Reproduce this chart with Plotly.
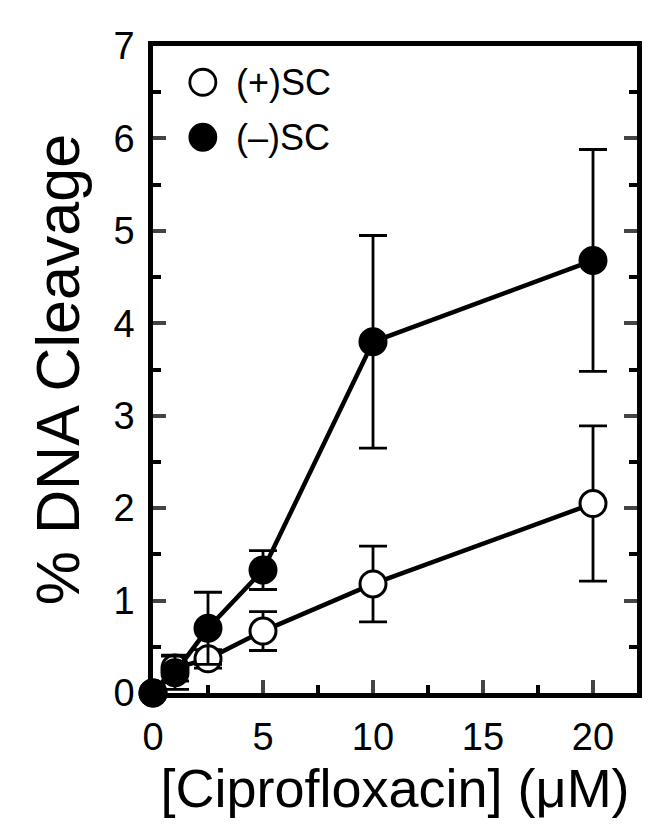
import plotly.graph_objects as go

conc = [0, 1, 2.5, 5, 10, 20]
neg_sc = [0, 0.22, 0.70, 1.33, 3.80, 4.68]
neg_err = [0, 0.18, 0.39, 0.21, 1.15, 1.20]
pos_sc = [0, 0.27, 0.37, 0.67, 1.18, 2.05]
pos_err = [0, 0.14, 0.10, 0.21, 0.41, 0.84]

x_ticks = [0, 5, 10, 15, 20]
y_ticks = [0, 1, 2, 3, 4, 5, 6, 7]

FONT = "Liberation Sans, Arial, sans-serif"

fig = go.Figure()
fig.add_trace(go.Scatter(
    x=conc, y=pos_sc, mode="lines+markers", name="(+)SC",
    line=dict(color="black", width=4.5),
    marker=dict(size=26, color="white", line=dict(color="black", width=3)),
    error_y=dict(type="data", array=pos_err, color="black", thickness=2.8, width=14),
    cliponaxis=False, showlegend=False,
))
fig.add_trace(go.Scatter(
    x=conc, y=neg_sc, mode="lines+markers", name="(–)SC",
    line=dict(color="black", width=4.5),
    marker=dict(size=27, color="black", line=dict(color="black", width=2)),
    error_y=dict(type="data", array=neg_err, color="black", thickness=2.8, width=14),
    cliponaxis=False, showlegend=False,
))

# legend drawn manually
legend_items = [("(+)SC", "white", 0.944), ("(–)SC", "black", 0.859)]
for label, fill, yy in legend_items:
    fig.add_shape(type="circle", xref="x domain", yref="y domain",
                  xsizemode="pixel", ysizemode="pixel",
                  xanchor=0.103, yanchor=yy, x0=-13, x1=13, y0=-13, y1=13,
                  fillcolor=fill, line=dict(color="black", width=2.8))
    fig.add_annotation(x=0.168, y=yy, xref="x domain", yref="y domain",
                       text=label, showarrow=False, xanchor="left", yanchor="middle",
                       font=dict(family=FONT, size=36, color="black"))

fig.update_xaxes(
    range=[0, 22], tickvals=x_ticks, ticks="inside", ticklen=13, tickwidth=4,
    showline=True, linewidth=4.5, linecolor="black", mirror=True,
    showgrid=False, zeroline=False,
    minor=dict(dtick=2.5, tick0=0, ticks="inside", ticklen=8, tickwidth=4, tickcolor="black"),
    tickfont=dict(family=FONT, size=38, color="black"), ticklabelstandoff=7,
    title=dict(text="[Ciprofloxacin] (μM)", font=dict(family=FONT, size=54, color="black"), standoff=10),
)
fig.update_yaxes(
    range=[0, 7], tickvals=y_ticks, ticks="inside", ticklen=13, tickwidth=4,
    showline=True, linewidth=4.5, linecolor="black", mirror="ticks",
    showgrid=False, zeroline=False,
    minor=dict(dtick=0.5, tick0=0, ticks="inside", ticklen=8, tickwidth=4, tickcolor="black"),
    tickfont=dict(family=FONT, size=38, color="black"), ticklabelstandoff=6,
    title=dict(text="% DNA Cleavage", font=dict(family=FONT, size=61, color="black"), standoff=16),
)
fig.update_layout(
    width=662, height=833,
    margin=dict(l=145, r=33, t=38, b=148),
    paper_bgcolor="white", plot_bgcolor="white",
    font=dict(family=FONT, color="black"),
)
fig.write_html("out.html")
